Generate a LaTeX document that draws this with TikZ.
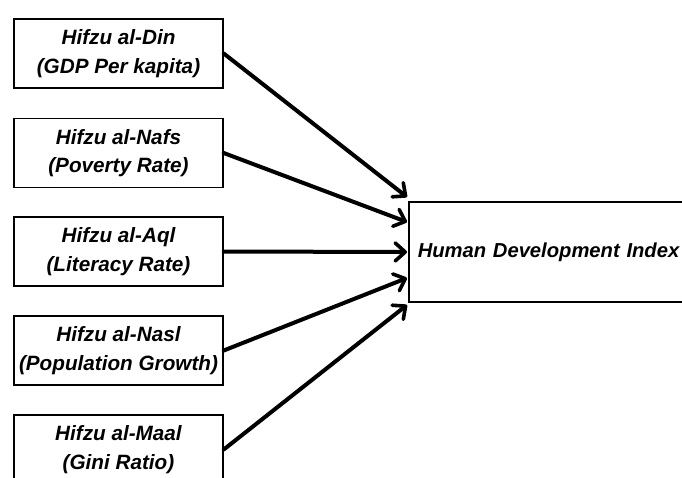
\documentclass[tikz,border=0pt]{standalone}
\usepackage{fontspec}
\setmainfont{Liberation Sans}
\usetikzlibrary{arrows.meta,calc}
\begin{document}
\begin{tikzpicture}[x=1pt,y=-1pt,
  src/.style={draw=black, line width=1.5pt, minimum width=209pt, minimum height=69pt,
    align=center, inner sep=0pt, text=black,
    font=\fontsize{20.7}{28.5}\selectfont\bfseries\itshape},
  tgt/.style={draw=black, line width=1.5pt, anchor=west, minimum width=300pt, minimum height=100pt,
    inner xsep=9pt, text width=285pt, align=left, text=black,
    font=\fontsize{20.2}{28}\selectfont\bfseries\itshape},
  arr/.style={line width=4pt, line cap=round, line join=round,
    -{Straight Barb[length=10pt,width=18pt,line width=3.6pt,round]}}]
\useasboundingbox (0,0) rectangle (682,477);
\clip (0,0) rectangle (682,477);
\fill[white] (0,0) rectangle (682,477);
\node[src] (b1) at (118.5,53.5) {Hifzu al-Din\\(GDP Per kapita)};
\node[src] (b2) at (118.5,153) {Hifzu al-Nafs\\(Poverty Rate)};
\node[src] (b3) at (118.5,251.5) {Hifzu al-Aql\\(Literacy Rate)};
\node[src] (b4) at (118.5,350.5) {Hifzu al-Nasl\\(Population Growth)};
\node[src] (b5) at (118.5,449.5) {Hifzu al-Maal\\(Gini Ratio)};
\node[tgt] (hdi) at (408,252) {Human Development Index};
\coordinate (e1) at ($(hdi.west)+(-1,-55)$);
\coordinate (e2) at ($(hdi.west)+(-1,-30)$);
\coordinate (e3) at ($(hdi.west)+(-1,0)$);
\coordinate (e4) at ($(hdi.west)+(-1,26)$);
\coordinate (e5) at ($(hdi.west)+(-1,53)$);
\draw[arr] (b1.east) -- (e1);
\draw[arr] (b2.east) -- (e2);
\draw[arr] (b3.east) -- (e3);
\draw[arr] (b4.east) -- (e4);
\draw[arr] (b5.east) -- (e5);
\end{tikzpicture}
\end{document}
